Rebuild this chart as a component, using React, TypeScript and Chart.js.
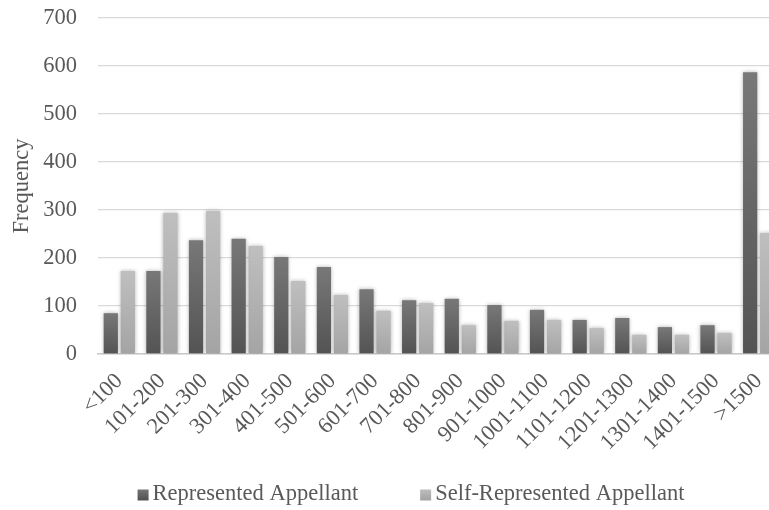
import React, { useEffect, useRef } from "react";
import { Chart, registerables } from "chart.js";

Chart.register(...registerables);

const categories = [
  "<100", "101-200", "201-300", "301-400", "401-500", "501-600", "601-700", "701-800",
  "801-900", "901-1000", "1001-1100", "1101-1200", "1201-1300", "1301-1400", "1401-1500", ">1500",
];
const represented = [85, 173, 237, 240, 202, 181, 135, 112, 115, 102, 92, 71, 75, 56, 60, 587];
const selfRepresented = [173, 294, 298, 225, 152, 123, 90, 106, 60, 69, 71, 54, 40, 40, 44, 252];
const seriesNames = ["Represented Appellant", "Self-Represented Appellant"];
const yTicks = [0, 100, 200, 300, 400, 500, 600, 700];

const FONT = "'Liberation Serif', 'Times New Roman', serif";
const TEXT = "#595959";
const FS = 22.5;

function gradientFill(top: string, bottom: string, solid: string) {
  return (c: any) => {
    const chart = c.chart;
    const y = chart.scales && chart.scales.y;
    if (c.type !== "data" || !y || typeof c.raw !== "number") return solid;
    const t = y.getPixelForValue(c.raw);
    const b = y.getPixelForValue(0);
    if (!isFinite(t) || !isFinite(b) || t === b) return solid;
    const g = chart.ctx.createLinearGradient(0, t, 0, b);
    g.addColorStop(0, top);
    g.addColorStop(1, bottom);
    return g;
  };
}

const shadowPlugin = {
  id: "barShadow",
  beforeDatasetsDraw(chart: any) {
    const ctx = chart.ctx;
    ctx.save();
    ctx.shadowColor = "rgba(0,0,0,0.3)";
    ctx.shadowBlur = 4;
    ctx.shadowOffsetX = 0;
    ctx.shadowOffsetY = 0;
  },
  afterDatasetsDraw(chart: any) {
    chart.ctx.restore();
  },
};

const legendPlugin = {
  id: "customLegend",
  afterDraw(chart: any) {
    const ctx = chart.ctx;
    const centerX = 411;
    const centerY = 494;
    const box = 11;
    const gap = 4;
    const spacing = 62;
    ctx.save();
    ctx.font = `${FS}px ${FONT}`;
    ctx.textBaseline = "middle";
    ctx.textAlign = "left";
    const items = chart.data.datasets.map((ds: any) => ({
      label: ds.label,
      color: ds.legendColor,
      w: ctx.measureText(ds.label).width,
    }));
    const total =
      items.reduce((s: number, it: any) => s + box + gap + it.w, 0) + spacing * (items.length - 1);
    let x = centerX - total / 2;
    items.forEach((it: any) => {
      const g = ctx.createLinearGradient(0, centerY - box / 2, 0, centerY + box / 2);
      g.addColorStop(0, it.color[0]);
      g.addColorStop(1, it.color[1]);
      ctx.fillStyle = g;
      ctx.fillRect(x, centerY - box / 2 + 1, box, box);
      ctx.fillStyle = TEXT;
      ctx.fillText(it.label, x + box + gap, centerY);
      x += box + gap + it.w + spacing;
    });
    ctx.restore();
  },
};

export default function App() {
  const ref = useRef<HTMLCanvasElement>(null);
  useEffect(() => {
    if (!ref.current) return;
    const chart = new Chart(ref.current, {
      type: "bar",
      data: {
        labels: categories,
        datasets: [
          {
            label: seriesNames[0],
            data: represented,
            backgroundColor: gradientFill("#787878", "#535353", "#5f5f5f"),
            legendColor: ["#787878", "#535353"],
            categoryPercentage: 0.8,
            barPercentage: 0.835,
          } as any,
          {
            label: seriesNames[1],
            data: selfRepresented,
            backgroundColor: gradientFill("#bfbfbf", "#a4a4a4", "#b0b0b0"),
            legendColor: ["#bfbfbf", "#a4a4a4"],
            categoryPercentage: 0.8,
            barPercentage: 0.835,
          } as any,
        ],
      },
      options: {
        animation: false,
        responsive: true,
        maintainAspectRatio: false,
        layout: { padding: { top: 18, right: 0, bottom: 0, left: 0 } },
        plugins: {
          legend: { display: false },
          tooltip: { enabled: false },
        },
        scales: {
          x: {
            grid: { display: false, drawTicks: false },
            border: { display: true, color: "#c9c9c9", width: 1.5 },
            ticks: {
              color: TEXT,
              font: { family: FONT, size: FS },
              minRotation: 45,
              maxRotation: 45,
              padding: 14,
              autoSkip: false,
            },
            afterFit: (s: any) => {
              s.height = 156;
              s.paddingLeft = 0;
              s.paddingRight = 0;
            },
          },
          y: {
            min: 0,
            max: 700,
            afterBuildTicks: (s: any) => {
              s.ticks = yTicks.map((v) => ({ value: v }));
            },
            grid: { color: "#d9d9d9", lineWidth: 1.3, drawTicks: false },
            border: { display: false },
            ticks: {
              color: TEXT,
              font: { family: FONT, size: FS },
              padding: 21,
            },
            title: {
              display: true,
              text: "Frequency",
              color: TEXT,
              font: { family: FONT, size: FS },
              padding: { top: 9, bottom: 0 },
            },
            afterFit: (s: any) => {
              s.width = 98;
              s.paddingTop = 0;
              s.paddingBottom = 0;
            },
          },
        },
      },
      plugins: [shadowPlugin, legendPlugin],
    });
    return () => chart.destroy();
  }, []);
  return (
    <div style={{ position: "fixed", left: 0, top: 0, width: 780, height: 510, background: "#fff" }}>
      <canvas ref={ref} />
    </div>
  );
}
